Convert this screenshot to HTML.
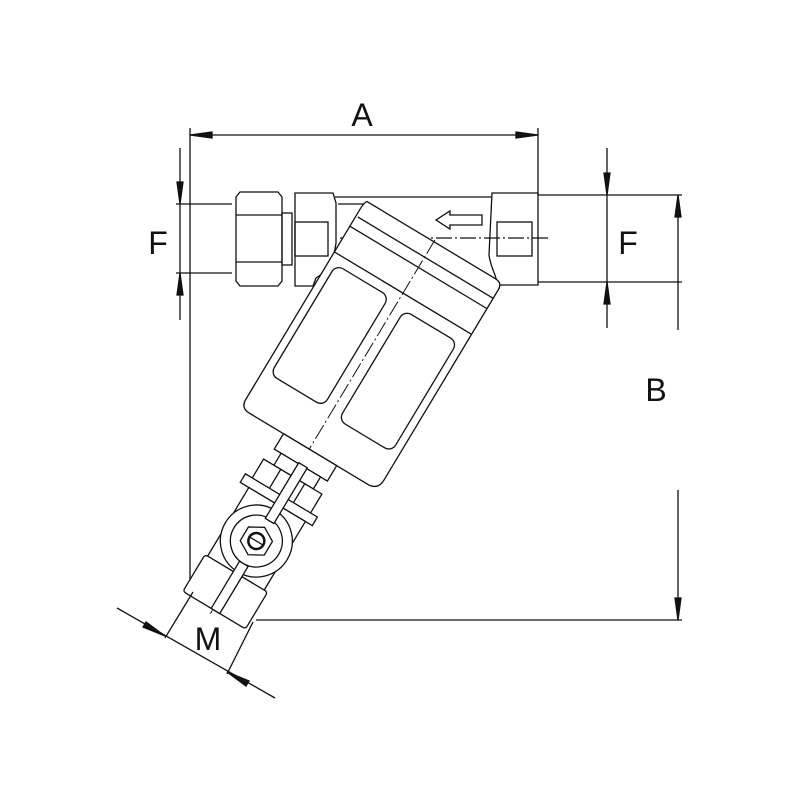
<!DOCTYPE html>
<html><head><style>
html,body{margin:0;padding:0;background:#fff;}
svg{display:block;}
text{font-family:"Liberation Sans",sans-serif;fill:#111;}
</style></head><body>
<svg width="800" height="800" viewBox="0 0 800 800" xmlns="http://www.w3.org/2000/svg">
<g stroke="#111" fill="none" stroke-width="1.3">
<!-- A dimension -->
<line x1="190" y1="128" x2="190" y2="590"/>
<line x1="538" y1="128" x2="538" y2="195"/>
<line x1="190" y1="135" x2="538" y2="135"/>
<path d="M190,135 l22,-3 v6 z M538,135 l-22,-3 v6 z" fill="#111"/>
<!-- left F -->
<line x1="180" y1="148" x2="180" y2="320"/>
<line x1="176" y1="204" x2="232" y2="204"/>
<line x1="176" y1="273" x2="232" y2="273"/>
<path d="M180,204 l-3,-22 h6 z M180,273 l-3,22 h6 z" fill="#111"/>
<!-- right F / B -->
<line x1="607" y1="148" x2="607" y2="328"/>
<line x1="538" y1="195" x2="682" y2="195"/>
<line x1="538" y1="282" x2="682" y2="282"/>
<path d="M607,195 l-3,-22 h6 z M607,282 l-3,22 h6 z" fill="#111"/>
<line x1="678" y1="195" x2="678" y2="330"/>
<line x1="678" y1="490" x2="678" y2="620"/>
<path d="M678,195 l-3,22 h6 z M678,620 l-3,-22 h6 z" fill="#111"/>
<line x1="256" y1="620" x2="682" y2="620"/>
<!-- left hex nut -->
<path d="M240,192 h38 l4,5 v84 l-4,5 h-38 l-4,-5 v-84 z"/>
<line x1="236" y1="215" x2="282" y2="215"/>
<line x1="236" y1="262" x2="282" y2="262"/>
<rect x="282" y="213" width="10" height="52"/>
<!-- left port -->
<path d="M295,193 h38 l3,10 v40 q-3,25 -20,35 l-3,8 h-18 z"/>
<rect x="295" y="222" width="33" height="34"/>
<!-- top pipe -->
<line x1="335" y1="197" x2="492" y2="197"/>
<line x1="338" y1="204" x2="365" y2="204"/>
<!-- right port -->
<path d="M492,193 h46 v92 h-40 l-3,-10 q-5,-12 -6,-20 z"/>
<rect x="497" y="222" width="35" height="34"/>
<!-- flow arrow -->
<path d="M482,215 h-32 v-4 l-14,9 l14,9 v-4 h32 z"/>
<!-- center line -->
<line x1="340" y1="238" x2="548" y2="238" stroke-dasharray="16,3,2,3"/>
<!-- bowl + valve in local coords -->
<g transform="translate(370,348) rotate(31)">
<path d="M-78,-124 h150 q8,0 8,8 v222 q0,12 -12,12 h-138 q-10,0 -10,-10 v-222 q0,-8 2,-10 z" fill="#fff"/>
<line x1="-78" y1="-106" x2="80" y2="-106"/>
<line x1="-80" y1="-94" x2="80" y2="-94"/>
<line x1="-80" y1="-64" x2="80" y2="-64"/>
<rect x="-72" y="-54" width="62" height="128" rx="8"/>
<rect x="10" y="-50" width="62" height="128" rx="8"/>
<line x1="0" y1="-126" x2="0" y2="310" stroke-dasharray="16,3,2,3" stroke-width="1"/>
<!-- nuts -->
<rect x="-30" y="118" width="62" height="18" fill="#fff"/>
<rect x="-22" y="136" width="46" height="14" fill="#fff"/>
<rect x="-34" y="150" width="68" height="26" fill="#fff"/>
<line x1="-14" y1="150" x2="-14" y2="176"/>
<line x1="14" y1="150" x2="14" y2="176"/>
<rect x="-42" y="172" width="84" height="10" fill="#fff"/>
<!-- valve body -->
<rect x="-32" y="182" width="66" height="88" fill="#fff"/>
<circle cx="2" cy="224" r="36" fill="#fff"/>
<circle cx="2" cy="224" r="26"/>
<polygon points="2,208 16,216 16,232 2,240 -12,232 -12,216"/>
<circle cx="2" cy="224" r="8" stroke-width="2.5"/>
<line x1="-6" y1="224" x2="10" y2="224"/>
<!-- outlet -->
<rect x="-35" y="262" width="73" height="43" rx="3" fill="#fff"/>
<!-- handle -->
<rect x="-2" y="135" width="10" height="65" fill="#fff"/>
<rect x="-2" y="250" width="10" height="55" fill="#fff"/>
</g>
<!-- M dimension -->
<line x1="193" y1="592" x2="165" y2="638"/>
<line x1="253" y1="622" x2="227" y2="674"/>
<line x1="117" y1="608" x2="275" y2="698"/>
<path d="M165,636 l-22,-9 l3,-5 z M227,672 l22,9 l-3,5 z" fill="#111"/>
</g>
<text x="362" y="126" font-size="32" text-anchor="middle">A</text>
<text x="158" y="254" font-size="32" text-anchor="middle">F</text>
<text x="628" y="254" font-size="32" text-anchor="middle">F</text>
<text x="656" y="401" font-size="32" text-anchor="middle">B</text>
<text x="208" y="650" font-size="32" text-anchor="middle">M</text>
</svg>
</body></html>
